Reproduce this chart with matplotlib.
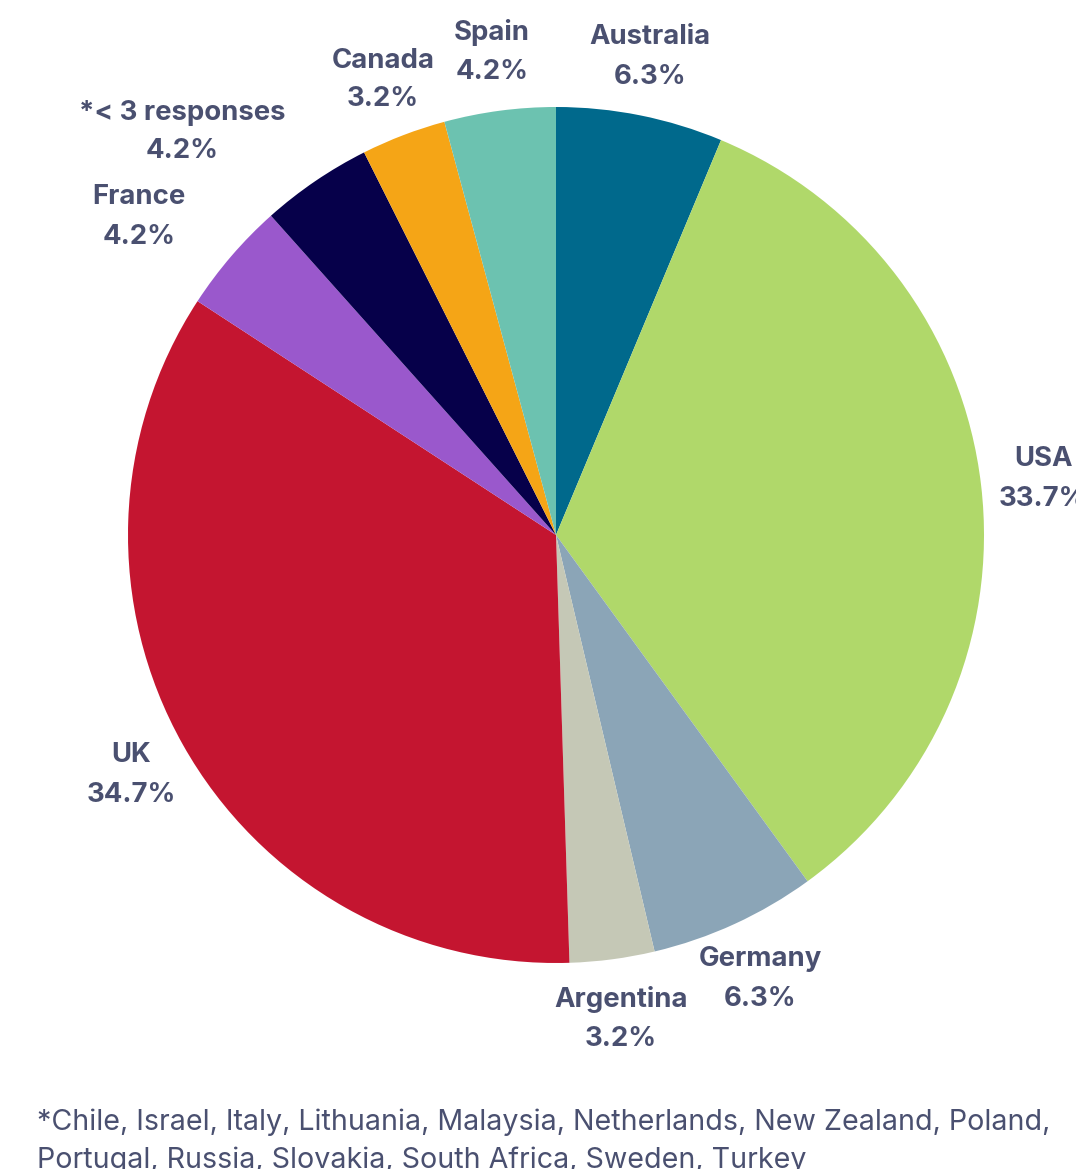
import matplotlib
matplotlib.use("Agg")
import matplotlib.pyplot as plt

countries = ["Australia", "USA", "Germany", "Argentina", "UK", "France", "*< 3 responses", "Canada", "Spain"]
shares = [6.3, 33.7, 6.3, 3.2, 34.7, 4.2, 4.2, 3.2, 4.2]
colors = ["#00698C", "#B0D86A", "#8BA5B7", "#C5C8B6", "#C41530", "#9A58CC", "#06004A", "#F5A516", "#6CC2B0"]
label_pos = [(650, 57), (1043, 479), (760, 979), (621, 1019), (131, 775), (139, 217), (182, 132), (383, 80), (492, 52)]
footnote = ("*Chile, Israel, Italy, Lithuania, Malaysia, Netherlands, New Zealand, Poland,\n"
            "Portugal, Russia, Slovakia, South Africa, Sweden, Turkey")

W, H = 1076, 1169
fig = plt.figure(figsize=(W / 100, H / 100), dpi=100)
ax = fig.add_axes([0, 0, 1, 1])

ax.pie(shares, colors=colors, startangle=90, counterclock=False,
       center=(556, H - 535), radius=428, frame=True,
       wedgeprops=dict(linewidth=0))
ax.set_xlim(0, W)
ax.set_ylim(0, H)
ax.set_aspect("equal")
ax.axis("off")

txtcol = "#4A5070"
for name, v, (x, y) in zip(countries, shares, label_pos):
    ax.text(x, H - y, f"{name}\n{v:.1f}%", ha="center", va="center",
            fontsize=19.8, fontweight="bold", color=txtcol, family="Inter",
            linespacing=1.65)

ax.text(37, H - 1109, footnote, ha="left", va="top", fontsize=20.6,
        color=txtcol, family="Inter", linespacing=1.46)

fig.savefig("out.png", dpi=100)
